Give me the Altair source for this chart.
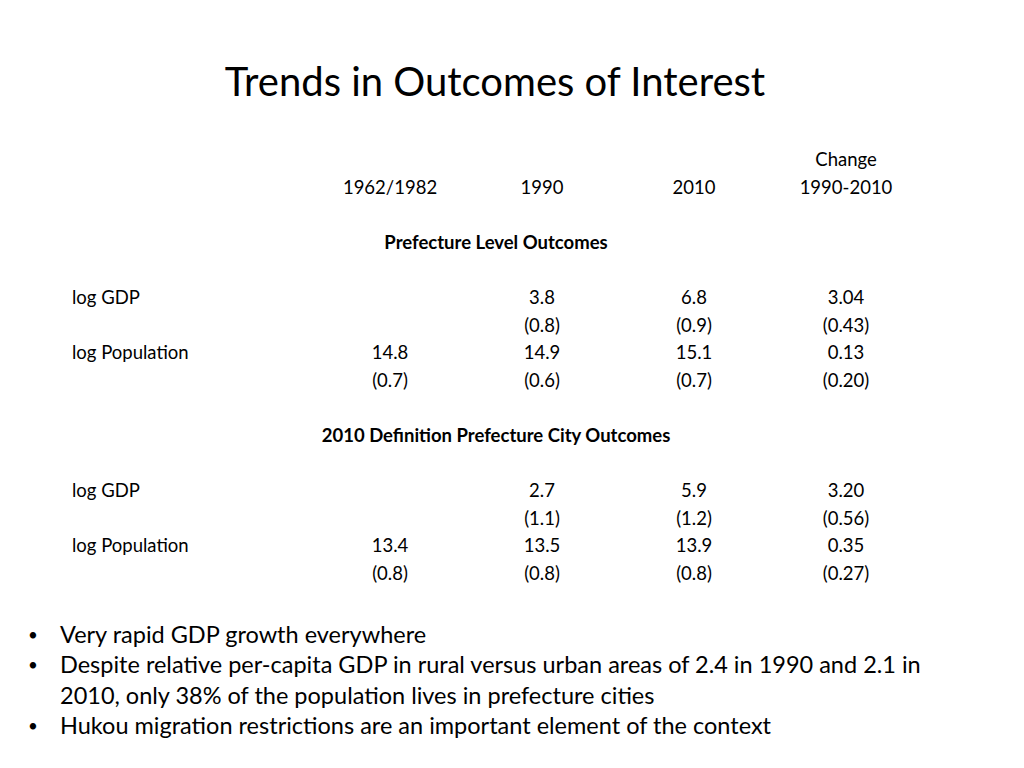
import altair as alt
import pandas as pd

FONT = "Lato"

title_text = ["Trends in Outcomes of Interest"]

columns = ["1962/1982", "1990", "2010", "Change"]
header_top = ["", "", "", "Change"]
header_years = ["1962/1982", "1990", "2010", "1990-2010"]

sections = ["Prefecture Level Outcomes", "2010 Definition Prefecture City Outcomes"]
row_names = ["log GDP", "log Population"]

# Prefecture level outcomes: mean and (sd) per column
pref_gdp_mean = [None, 3.8, 6.8, 3.04]
pref_gdp_sd = [None, 0.8, 0.9, 0.43]
pref_pop_mean = [14.8, 14.9, 15.1, 0.13]
pref_pop_sd = [0.7, 0.6, 0.7, 0.20]

# 2010 definition prefecture city outcomes
city_gdp_mean = [None, 2.7, 5.9, 3.20]
city_gdp_sd = [None, 1.1, 1.2, 0.56]
city_pop_mean = [13.4, 13.5, 13.9, 0.35]
city_pop_sd = [0.8, 0.8, 0.8, 0.27]

bullets = [
    "Very rapid GDP growth everywhere",
    "Despite relative per-capita GDP in rural versus urban areas of 2.4 in 1990 and 2.1 in",
    "2010, only 38% of the population lives in prefecture cities",
    "Hukou migration restrictions are an important element of the context",
]
bullet_marks = ["•", "•", "", "•"]


def fmt(v, col, paren):
    if v is None:
        return ""
    s = f"{v:.2f}" if col == "Change" else f"{v:.1f}"
    return f"({s})" if paren else s


# Build the table grid (row index 0..15)
cells = []
for c, t in zip(columns, header_top):
    cells.append({"row": 0, "col": c, "text": t})
for c, t in zip(columns, header_years):
    cells.append({"row": 1, "col": c, "text": t})

blocks = [
    (5, [pref_gdp_mean, pref_gdp_sd, pref_pop_mean, pref_pop_sd]),
    (12, [city_gdp_mean, city_gdp_sd, city_pop_mean, city_pop_sd]),
]
labels = []
for start, series in blocks:
    for k, vals in enumerate(series):
        for c, v in zip(columns, vals):
            cells.append({"row": start + k, "col": c, "text": fmt(v, c, k % 2 == 1)})
    labels.append({"row": start, "text": row_names[0]})
    labels.append({"row": start + 2, "text": row_names[1]})

cells_df = pd.DataFrame(cells)
labels_df = pd.DataFrame(labels)
sections_df = pd.DataFrame({"row": [3, 10], "text": sections})
bullets_df = pd.DataFrame({"line": list(range(len(bullets))), "text": bullets, "mark": bullet_marks})
title_df = pd.DataFrame({"text": title_text})

row_scale = alt.Scale(type="point", domain=list(range(16)), range=[152, 566], padding=0)
col_scale = alt.Scale(type="point", domain=columns, range=[382, 838], padding=0)
line_scale = alt.Scale(type="point", domain=list(range(len(bullets))), range=[628, 719], padding=0)

base_text = dict(font=FONT, color="black", baseline="middle")
TABLE_SIZE = 18.5

table = alt.Chart(cells_df).mark_text(fontSize=TABLE_SIZE, align="center", **base_text).encode(
    x=alt.X("col:N", scale=col_scale, axis=None),
    y=alt.Y("row:O", scale=row_scale, axis=None),
    text="text:N",
)

row_labels = alt.Chart(labels_df).mark_text(fontSize=TABLE_SIZE, align="left", **base_text).encode(
    x=alt.value(64),
    y=alt.Y("row:O", scale=row_scale, axis=None),
    text="text:N",
)

section_titles = alt.Chart(sections_df).mark_text(
    fontSize=TABLE_SIZE, fontWeight="bold", align="center", **base_text
).encode(
    x=alt.value(488),
    y=alt.Y("row:O", scale=row_scale, axis=None),
    text="text:N",
)

title = alt.Chart(title_df).mark_text(fontSize=40, align="center", **base_text).encode(
    x=alt.value(487),
    y=alt.value(76),
    text="text:N",
)

bullet_text = alt.Chart(bullets_df).mark_text(fontSize=23.5, align="left", **base_text).encode(
    x=alt.value(52),
    y=alt.Y("line:O", scale=line_scale, axis=None),
    text="text:N",
)

bullet_dots = alt.Chart(bullets_df).mark_text(fontSize=17, align="center", **base_text).encode(
    x=alt.value(25),
    y=alt.Y("line:O", scale=line_scale, axis=None),
    text="mark:N",
)

chart = (
    alt.layer(title, table, row_labels, section_titles, bullet_text, bullet_dots)
    .resolve_scale(y="independent", x="independent")
    .properties(width=1000, height=745, padding=0, autosize=alt.AutoSizeParams(type="none"))
    .configure_view(strokeWidth=0, stroke=None, fill=None)
)

chart.save("out.html", embed_options={"renderer": "svg", "actions": False})
